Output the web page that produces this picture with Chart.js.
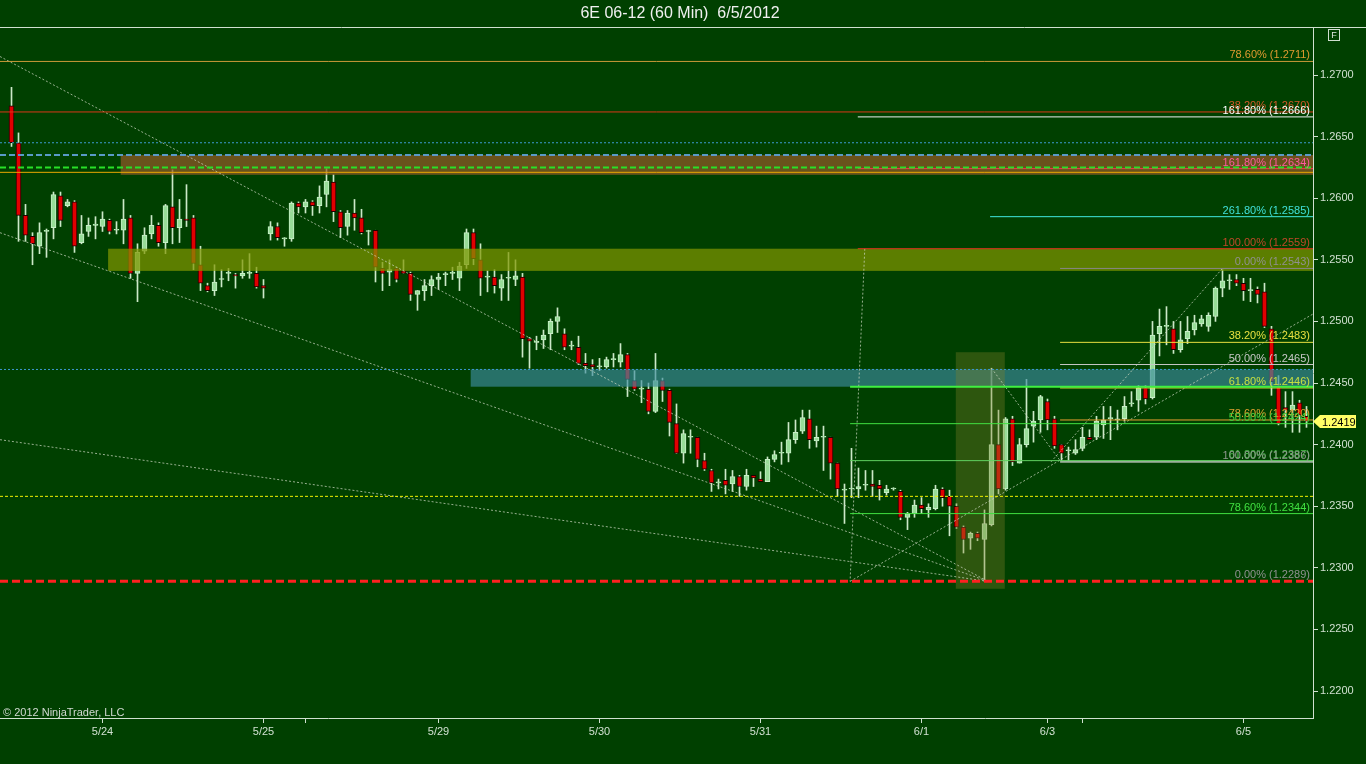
<!DOCTYPE html>
<html>
<head>
<meta charset="utf-8">
<script src="https://cdn.jsdelivr.net/npm/chart.js@4.4.1/dist/chart.umd.min.js"></script>
<style>
html, body { margin: 0; padding: 0; background: #004000; }
canvas { display: block; }
</style>
</head>
<body>
<canvas id="myChart" width="1366" height="764"></canvas>
<script>
// 6E 06-12, 60 min bars, 5/23 evening .. 6/5
var opens = [
  1.2675, 1.2645, 1.2586, 1.2569, 1.2561, 1.2573, 1.2576, 1.2602, 1.2594, 1.2597,
  1.2564, 1.2573, 1.2578, 1.2577, 1.2582, 1.2574, 1.2574, 1.2584, 1.2539, 1.2557,
  1.2571, 1.2578, 1.2564, 1.2593, 1.2576, 1.2583, 1.2584, 1.2546, 1.2529, 1.2525,
  1.2534, 1.2539, 1.2538, 1.2537, 1.2539, 1.2539, 1.2529, 1.2571, 1.2577, 1.2567,
  1.2567, 1.2596, 1.2593, 1.2597, 1.2594, 1.2603, 1.2613, 1.2589, 1.2577, 1.2588,
  1.2584, 1.2573, 1.2574, 1.2543, 1.2540, 1.2543, 1.2541, 1.2539, 1.2522, 1.2525,
  1.2529, 1.2534, 1.2538, 1.2539, 1.2535, 1.2546, 1.2572, 1.2550, 1.2536, 1.2536,
  1.2527, 1.2535, 1.2534, 1.2536, 1.2486, 1.2483, 1.2485, 1.2490, 1.2500, 1.2490,
  1.2480, 1.2479, 1.2466, 1.2465, 1.2463, 1.2463, 1.2469, 1.2467, 1.2473, 1.2452,
  1.2445, 1.2445, 1.2427, 1.2452, 1.2444, 1.2417, 1.2393, 1.2406, 1.2406, 1.2387,
  1.2379, 1.2369, 1.2371, 1.2368, 1.2374, 1.2366, 1.2375, 1.2372, 1.2370, 1.2388,
  1.2393, 1.2393, 1.2404, 1.2411, 1.2421, 1.2403, 1.2406, 1.2406, 1.2385, 1.2363,
  1.2364, 1.2364, 1.2367, 1.2368, 1.2367, 1.2361, 1.2364, 1.2362, 1.2341, 1.2344,
  1.2351, 1.2347, 1.2348, 1.2364, 1.2358, 1.2350, 1.2333, 1.2324, 1.2328, 1.2323,
  1.2335, 1.2400, 1.2364, 1.2421, 1.2385, 1.2400, 1.2415, 1.2420, 1.2435, 1.2421,
  1.2400, 1.2395, 1.2393, 1.2397, 1.2406, 1.2406, 1.2416, 1.2421, 1.2420, 1.2421,
  1.2433, 1.2436, 1.2446, 1.2438, 1.2490, 1.2496, 1.2494, 1.2477, 1.2486, 1.2493,
  1.2498, 1.2496, 1.2504, 1.2527, 1.2533, 1.2534, 1.2531, 1.2525, 1.2526, 1.2524,
  1.2494, 1.2448, 1.2430, 1.2428, 1.2434, 1.2423
];
var highs = [
  1.2690, 1.2653, 1.2595, 1.2572, 1.2580, 1.2575, 1.2605, 1.2605, 1.2599, 1.2598,
  1.2586, 1.2584, 1.2585, 1.2589, 1.2583, 1.2581, 1.2599, 1.2586, 1.2563, 1.2576,
  1.2586, 1.2580, 1.2595, 1.2623, 1.2599, 1.2611, 1.2586, 1.2561, 1.2531, 1.2546,
  1.2542, 1.2543, 1.2539, 1.2550, 1.2555, 1.2544, 1.2534, 1.2581, 1.2580, 1.2568,
  1.2597, 1.2597, 1.2599, 1.2598, 1.2610, 1.2624, 1.2619, 1.2590, 1.2590, 1.2599,
  1.2591, 1.2574, 1.2574, 1.2548, 1.2550, 1.2544, 1.2550, 1.2540, 1.2525, 1.2534,
  1.2537, 1.2539, 1.2540, 1.2544, 1.2548, 1.2575, 1.2575, 1.2563, 1.2541, 1.2542,
  1.2538, 1.2556, 1.2550, 1.2539, 1.2487, 1.2488, 1.2493, 1.2502, 1.2511, 1.2494,
  1.2484, 1.2488, 1.2474, 1.2469, 1.2470, 1.2471, 1.2474, 1.2482, 1.2474, 1.2460,
  1.2452, 1.2450, 1.2474, 1.2454, 1.2445, 1.2433, 1.2412, 1.2412, 1.2406, 1.2393,
  1.2380, 1.2372, 1.2380, 1.2379, 1.2375, 1.2380, 1.2375, 1.2378, 1.2390, 1.2395,
  1.2402, 1.2418, 1.2420, 1.2428, 1.2428, 1.2415, 1.2415, 1.2406, 1.2385, 1.2368,
  1.2397, 1.2381, 1.2379, 1.2379, 1.2371, 1.2367, 1.2365, 1.2363, 1.2345, 1.2355,
  1.2357, 1.2352, 1.2367, 1.2365, 1.2363, 1.2352, 1.2334, 1.2329, 1.2329, 1.2347,
  1.2462, 1.2428, 1.2422, 1.2423, 1.2405, 1.2453, 1.2427, 1.2440, 1.2437, 1.2423,
  1.2400, 1.2398, 1.2404, 1.2414, 1.2412, 1.2423, 1.2431, 1.2431, 1.2428, 1.2439,
  1.2443, 1.2448, 1.2448, 1.2500, 1.2510, 1.2512, 1.2500, 1.2500, 1.2504, 1.2505,
  1.2505, 1.2507, 1.2528, 1.2542, 1.2538, 1.2538, 1.2535, 1.2535, 1.2528, 1.2531,
  1.2496, 1.2456, 1.2443, 1.2443, 1.2436, 1.2431
];
var lows = [
  1.2642, 1.2565, 1.2565, 1.2546, 1.2555, 1.2552, 1.2567, 1.2577, 1.2593, 1.2556,
  1.2563, 1.2569, 1.2567, 1.2573, 1.2571, 1.2571, 1.2563, 1.2535, 1.2516, 1.2555,
  1.2567, 1.2561, 1.2555, 1.2563, 1.2564, 1.2577, 1.2542, 1.2525, 1.2524, 1.2521,
  1.2528, 1.2533, 1.2527, 1.2535, 1.2535, 1.2527, 1.2519, 1.2566, 1.2566, 1.2561,
  1.2565, 1.2588, 1.2588, 1.2586, 1.2588, 1.2593, 1.2581, 1.2568, 1.2570, 1.2574,
  1.2571, 1.2562, 1.2532, 1.2525, 1.2529, 1.2532, 1.2539, 1.2517, 1.2509, 1.2517,
  1.2521, 1.2526, 1.2529, 1.2534, 1.2525, 1.2543, 1.2546, 1.2521, 1.2524, 1.2523,
  1.2517, 1.2517, 1.2529, 1.2471, 1.2462, 1.2477, 1.2478, 1.2477, 1.2491, 1.2477,
  1.2477, 1.2465, 1.2458, 1.2456, 1.2460, 1.2462, 1.2463, 1.2463, 1.2439, 1.2444,
  1.2434, 1.2425, 1.2426, 1.2435, 1.2407, 1.2393, 1.2385, 1.2393, 1.2382, 1.2379,
  1.2362, 1.2364, 1.2360, 1.2362, 1.2358, 1.2363, 1.2366, 1.2370, 1.2370, 1.2386,
  1.2384, 1.2386, 1.2401, 1.2409, 1.2397, 1.2398, 1.2379, 1.2372, 1.2358, 1.2336,
  1.2357, 1.2357, 1.2363, 1.2358, 1.2355, 1.2359, 1.2363, 1.2339, 1.2331, 1.2341,
  1.2344, 1.2341, 1.2347, 1.2350, 1.2326, 1.2332, 1.2312, 1.2315, 1.2322, 1.2289,
  1.2334, 1.2360, 1.2363, 1.2383, 1.2385, 1.2398, 1.2402, 1.2410, 1.2412, 1.2397,
  1.2387, 1.2387, 1.2392, 1.2395, 1.2404, 1.2404, 1.2405, 1.2404, 1.2412, 1.2419,
  1.2431, 1.2427, 1.2433, 1.2437, 1.2472, 1.2481, 1.2474, 1.2475, 1.2482, 1.2489,
  1.2496, 1.2492, 1.2500, 1.2520, 1.2526, 1.2529, 1.2517, 1.2516, 1.2515, 1.2495,
  1.2440, 1.2416, 1.2414, 1.2410, 1.2410, 1.2414
];
var closes = [
  1.2645, 1.2586, 1.2570, 1.2563, 1.2572, 1.2574, 1.2603, 1.2582, 1.2597, 1.2561,
  1.2571, 1.2578, 1.2579, 1.2583, 1.2573, 1.2574, 1.2583, 1.2539, 1.2556, 1.2570,
  1.2578, 1.2564, 1.2594, 1.2576, 1.2583, 1.2582, 1.2547, 1.2531, 1.2525, 1.2532,
  1.2534, 1.2539, 1.2537, 1.2539, 1.2539, 1.2528, 1.2527, 1.2577, 1.2568, 1.2567,
  1.2596, 1.2593, 1.2597, 1.2594, 1.2601, 1.2614, 1.2589, 1.2576, 1.2588, 1.2584,
  1.2572, 1.2573, 1.2544, 1.2539, 1.2542, 1.2534, 1.2539, 1.2522, 1.2525, 1.2529,
  1.2534, 1.2536, 1.2538, 1.2539, 1.2545, 1.2572, 1.2551, 1.2535, 1.2536, 1.2529,
  1.2534, 1.2535, 1.2537, 1.2486, 1.2484, 1.2483, 1.2489, 1.2500, 1.2504, 1.2479,
  1.2480, 1.2466, 1.2464, 1.2463, 1.2464, 1.2469, 1.2469, 1.2473, 1.2453, 1.2445,
  1.2445, 1.2427, 1.2452, 1.2444, 1.2418, 1.2393, 1.2409, 1.2406, 1.2388, 1.2380,
  1.2369, 1.2369, 1.2367, 1.2374, 1.2366, 1.2375, 1.2373, 1.2370, 1.2388, 1.2392,
  1.2393, 1.2404, 1.2410, 1.2422, 1.2404, 1.2406, 1.2406, 1.2385, 1.2364, 1.2363,
  1.2364, 1.2366, 1.2367, 1.2366, 1.2364, 1.2364, 1.2364, 1.2341, 1.2344, 1.2351,
  1.2348, 1.2349, 1.2364, 1.2357, 1.2350, 1.2333, 1.2323, 1.2328, 1.2324, 1.2336,
  1.2400, 1.2364, 1.2421, 1.2386, 1.2400, 1.2413, 1.2419, 1.2439, 1.2420, 1.2399,
  1.2393, 1.2395, 1.2396, 1.2406, 1.2404, 1.2419, 1.2420, 1.2422, 1.2421, 1.2431,
  1.2434, 1.2446, 1.2437, 1.2489, 1.2496, 1.2496, 1.2477, 1.2485, 1.2492, 1.2499,
  1.2502, 1.2505, 1.2527, 1.2533, 1.2533, 1.2531, 1.2525, 1.2525, 1.2522, 1.2496,
  1.2451, 1.2417, 1.2428, 1.2432, 1.2424, 1.2419
];

var dayTickIdx = [13, 36, 42, 61, 84, 107, 130, 148, 153, 176];
var dayTickText = ['5/24', '5/25', '', '5/29', '5/30', '5/31', '6/1', '6/3', '', '6/5'];
var priceTicks = [1.2200, 1.2250, 1.2300, 1.2350, 1.2400, 1.2450, 1.2500, 1.2550, 1.2600, 1.2650, 1.2700];
var lastPrice = 1.2419;

// horizontal levels (fib tools, manual lines)
var levelPrices = [1.2711, 1.2670, 1.2666, 1.2645, 1.2635, 1.2625, 1.2624, 1.2621, 1.2585, 1.2559,
  1.2543, 1.2483, 1.2465, 1.2461, 1.2447, 1.2446, 1.2420, 1.2417, 1.2387, 1.2386,
  1.2358, 1.2344, 1.2289];
var levelText = ['78.60% (1.2711)', '38.20% (1.2670)', '161.80% (1.2666)', '', '', '', '161.80% (1.2634)', '',
  '261.80% (1.2585)', '100.00% (1.2559)', '0.00% (1.2543)', '38.20% (1.2483)', '50.00% (1.2465)', '', '',
  '61.80% (1.2446)', '78.60% (1.2420)', '50.00% (1.2424)', '61.80% (1.2387)', '100.00% (1.2386)', '',
  '78.60% (1.2344)', '0.00% (1.2289)'];

// zones: price bands
var zoneTop = [1.2635, 1.2559, 1.2461, 1.2475];
var zoneBottom = [1.2619, 1.2541, 1.2447, 1.2283];

// trend / fan lines as [barIndex, price] pairs
var trendFrom = [[-1.64, 1.2715], [-1.64, 1.2572], [-1.64, 1.2404], [119.8, 1.2289], [148.5, 1.2386], [140, 1.2462], [121.9, 1.2559]];
var trendTo = [[139.5, 1.2289], [139.5, 1.2289], [139.5, 1.2289], [185.93, 1.2506], [173, 1.2543], [149.8, 1.2387], [119.8, 1.2289]];

// ---- layout / styles ----
var xMin = -1.643, xMax = 185.93;
var FULL = xMin;
var levelStyle = [
  [FULL, '#c89838', 1, [], '#e09a30'],
  [FULL, '#d83818', 1, [], '#d05828'],
  [120.9, '#f0f0f0', 1, [], '#ffffff'],
  [FULL, '#3c9ad0', 1, [2, 2], ''],
  [FULL, '#5a9ac8', 2, [6, 3], ''],
  [FULL, '#28e028', 2, [6, 3], ''],
  [120.9, '#ff3050', 1, [], '#ff5aa0'],
  [FULL, '#e8a800', 1, [], ''],
  [139.8, '#40e8e0', 1, [], '#40e0d8'],
  [120.9, '#e03020', 1, [], '#c04828'],
  [149.8, '#888888', 1, [], '#909090'],
  [149.8, '#e8e040', 1, [], '#e8e040'],
  [149.8, '#c8c8c8', 1, [], '#c8c8c8'],
  [FULL, '#3c9ad0', 1, [2, 2], ''],
  [119.8, '#40f040', 2, [], ''],
  [149.8, '#e8e040', 1, [], '#c8e040'],
  [149.8, '#e8a030', 1, [], '#e0a030'],
  [119.8, '#40e040', 1, [], '#40d040'],
  [119.8, '#60d060', 1, [], '#50c050'],
  [149.8, '#a0b0a0', 2, [], '#909890'],
  [FULL, '#f0f000', 1, [3, 2], ''],
  [119.8, '#40e040', 1, [], '#40e040'],
  [FULL, '#ff2020', 3, [8, 4], '#909090']
];
var zoneStyle = [
  [15.6, xMax, 'rgba(150,90,40,0.7)'],
  [13.8, xMax, 'rgba(128,150,0,0.72)'],
  [65.6, xMax, 'rgba(60,140,160,0.65)'],
  [134.9, 141.9, 'rgba(130,130,40,0.35)']
];

var FONT = '"Liberation Sans", Arial, sans-serif';
var AXIS = '#d0e0d0';

var idx = opens.map(function (o, i) { return i; });
var up = idx.map(function (i) { return closes[i] >= opens[i]; });

var datasets = [
  {
    type: 'bar', label: 'body',
    data: idx.map(function (i) { return { x: i, y: [opens[i], closes[i]] }; }),
    backgroundColor: up.map(function (u) { return u ? '#98dc98' : '#e00000'; }),
    borderColor: up.map(function (u) { return u ? '#c8f0c8' : '#200000'; }),
    borderWidth: 1, borderSkipped: false,
    barThickness: 5, minBarLength: 1, grouped: false, order: 1
  },
  {
    type: 'bar', label: 'wick',
    data: idx.map(function (i) { return { x: i, y: [lows[i], highs[i]] }; }),
    backgroundColor: '#cce8c8', borderWidth: 0,
    barThickness: 1, grouped: false, order: 2
  }
];

levelPrices.forEach(function (p, k) {
  var s = levelStyle[k];
  datasets.push({
    type: 'line', label: 'lvl' + k,
    data: [{ x: s[0], y: p }, { x: xMax, y: p }],
    borderColor: s[1], borderWidth: s[2], borderDash: s[3],
    pointRadius: 0, fill: false, order: 0
  });
});

trendFrom.forEach(function (a, k) {
  var b = trendTo[k];
  datasets.push({
    type: 'line', label: 'trend' + k,
    data: [{ x: a[0], y: a[1] }, { x: b[0], y: b[1] }],
    borderColor: 'rgba(200,212,190,0.75)', borderWidth: 1, borderDash: [2, 2],
    pointRadius: 0, fill: false, order: 0
  });
});

var ninjaPlugin = {
  id: 'ninja',
  beforeDraw: function (chart) {
    var ctx = chart.ctx;
    ctx.save();
    ctx.fillStyle = '#004000';
    ctx.fillRect(0, 0, chart.width, chart.height);
    ctx.strokeStyle = AXIS;
    ctx.lineWidth = 1;
    ctx.beginPath();
    ctx.moveTo(0, 27.5); ctx.lineTo(chart.width, 27.5);
    ctx.stroke();
    ctx.fillStyle = '#f0f0f0';
    ctx.font = '16px ' + FONT;
    ctx.textAlign = 'center';
    ctx.textBaseline = 'middle';
    ctx.fillText('6E 06-12 (60 Min)  6/5/2012', 680, 14);
    ctx.restore();
  },
  afterDatasetDraw: function (chart, args) {
    if (args.index !== 0) return;
    var ctx = chart.ctx, xs = chart.scales.x, ys = chart.scales.y;
    ctx.save();
    zoneTop.forEach(function (t, k) {
      var z = zoneStyle[k];
      var x0 = xs.getPixelForValue(z[0]), x1 = xs.getPixelForValue(z[1]);
      var y0 = ys.getPixelForValue(t), y1 = ys.getPixelForValue(zoneBottom[k]);
      ctx.fillStyle = z[2];
      ctx.fillRect(x0, y0, x1 - x0, y1 - y0);
    });
    ctx.restore();
  },
  afterDatasetsDraw: function (chart) {
    var ctx = chart.ctx, ys = chart.scales.y, area = chart.chartArea;
    ctx.save();
    ctx.font = '11px ' + FONT;
    ctx.textAlign = 'right';
    ctx.textBaseline = 'alphabetic';
    levelPrices.forEach(function (p, k) {
      if (!levelText[k]) return;
      ctx.fillStyle = levelStyle[k][4];
      ctx.fillText(levelText[k], area.right - 3, ys.getPixelForValue(p) - 3);
    });

    // copyright
    ctx.textAlign = 'left';
    ctx.fillStyle = '#d0d8d0';
    ctx.fillText('\u00a9 2012 NinjaTrader, LLC', 3, 716);

    // last price marker
    var y = Math.round(ys.getPixelForValue(lastPrice)) + 0.5;
    var r = area.right;
    ctx.fillStyle = '#ffff66';
    ctx.beginPath();
    ctx.moveTo(r, y);
    ctx.lineTo(r + 7, y - 6.5);
    ctx.lineTo(r + 43, y - 6.5);
    ctx.lineTo(r + 43, y + 6.5);
    ctx.lineTo(r + 7, y + 6.5);
    ctx.closePath();
    ctx.fill();
    ctx.fillStyle = '#000000';
    ctx.textBaseline = 'middle';
    ctx.fillText(lastPrice.toFixed(4), r + 9, y + 1);

    // "F" box
    ctx.strokeStyle = AXIS;
    ctx.lineWidth = 1;
    ctx.strokeRect(1328.5, 29.5, 11, 11);
    ctx.fillStyle = '#e0e8e0';
    ctx.font = '9px ' + FONT;
    ctx.textAlign = 'center';
    ctx.fillText('F', 1334, 35.5);
    ctx.restore();
  }
};

var ctx = document.getElementById('myChart').getContext('2d');
var myChart = new Chart(ctx, {
  type: 'bar',
  data: { datasets: datasets },
  options: {
    responsive: false,
    animation: false,
    devicePixelRatio: 1,
    layout: { padding: { top: 28, left: 0, right: 0, bottom: 0 } },
    plugins: { legend: { display: false }, tooltip: { enabled: false }, title: { display: false } },
    scales: {
      x: {
        type: 'linear', min: xMin, max: xMax, offset: false, bounds: 'data',
        afterFit: function (s) { s.height = 46; },
        afterBuildTicks: function (s) { s.ticks = dayTickIdx.map(function (v) { return { value: v }; }); },
        border: { display: true, color: AXIS, width: 1 },
        grid: { offset: false, drawOnChartArea: false, drawTicks: true, tickLength: 5, color: AXIS },
        ticks: {
          autoSkip: false, maxRotation: 0, padding: 2,
          color: '#d0e0d0', font: { family: FONT, size: 11 },
          callback: function (v) { var k = dayTickIdx.indexOf(v); return k >= 0 ? dayTickText[k] : ''; }
        }
      },
      y: {
        position: 'right', min: 1.21781, max: 1.273815, beginAtZero: false,
        afterFit: function (s) { s.width = 53; },
        afterBuildTicks: function (s) { s.ticks = priceTicks.map(function (v) { return { value: v }; }); },
        border: { display: true, color: AXIS, width: 1 },
        grid: { drawOnChartArea: false, drawTicks: true, tickLength: 5, color: AXIS },
        ticks: {
          padding: 2, color: '#d0e0d0', font: { family: FONT, size: 11 },
          callback: function (v) { return Number(v).toFixed(4); }
        }
      }
    }
  },
  plugins: [ninjaPlugin]
});
</script>
</body>
</html>
